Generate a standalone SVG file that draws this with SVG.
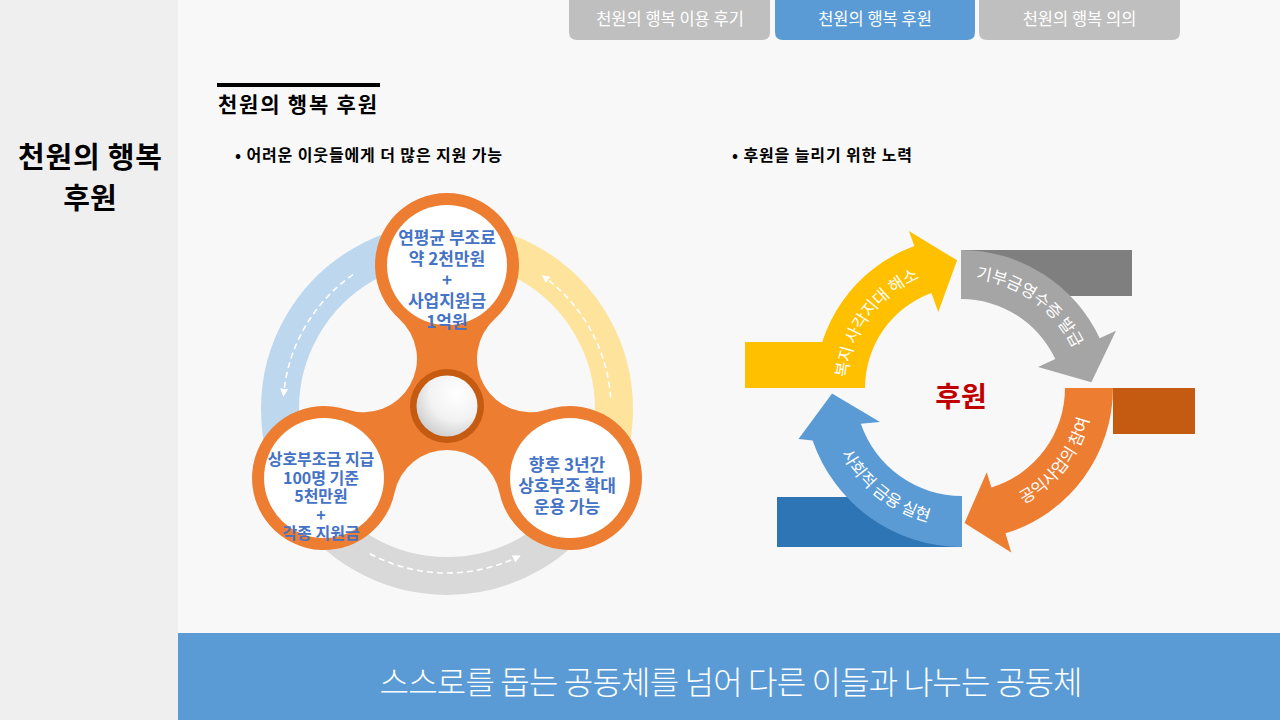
<svg xmlns="http://www.w3.org/2000/svg" width="1280" height="720" viewBox="0 0 1280 720">
<defs>
<style>
.kr{font-family:'Noto Sans CJK KR','Noto Sans',sans-serif}
.tab{font-size:16.5px;fill:#ffffff;text-anchor:middle}
.lobe{font-size:17px;font-weight:700;fill:#4472c4;text-anchor:middle}
.lobe2{font-size:16px;font-weight:700;fill:#4472c4;text-anchor:middle}
.arc{font-size:16.5px;fill:#ffffff;text-anchor:middle}
.ring{fill:none;stroke-width:38}
.dash{fill:none;stroke:#ffffff;stroke-width:1.6;stroke-dasharray:6 4}
</style>
<marker id="ah" markerWidth="8" markerHeight="8" refX="6" refY="4" orient="auto" markerUnits="userSpaceOnUse">
<path d="M0,0 L8,4 L0,8 z" fill="#ffffff"/>
</marker>
<radialGradient id="cg" cx="0.65" cy="0.3" r="0.8">
<stop offset="0" stop-color="#ffffff"/>
<stop offset="0.55" stop-color="#f2f2f2"/>
<stop offset="1" stop-color="#c8c8c8"/>
</radialGradient>
<path id="tpY" d="M848.46,406.61 A119,119 0 0 1 947.39,270.46"/>
<path id="tpG" d="M940.37,279.71 A125,125 0 0 1 1084.29,382.37"/>
<path id="tpO" d="M978,518.9 A132,132 0 0 0 1091.9,371"/>
<path id="tpB" d="M826.03,405.7 A137,137 0 0 0 978.7,524.97"/>
</defs>

<g id="background">
<rect x="0" y="0" width="1280" height="720" fill="#f8f8f8"/>
<rect x="0" y="0" width="178" height="720" fill="#efefef"/>
</g>

<g id="tabs" class="kr">
<g id="tab1"><path d="M569,0 H770 V32 Q770,40 762,40 H577 Q569,40 569,32 Z" fill="#bfbfbf"/><text class="tab" x="670" y="24.5">천원의 행복 이용 후기</text></g>
<g id="tab2"><path d="M775,0 H975 V32 Q975,40 967,40 H783 Q775,40 775,32 Z" fill="#5b9bd5"/><text class="tab" x="875" y="24.5">천원의 행복 후원</text></g>
<g id="tab3"><path d="M979,0 H1180 V32 Q1180,40 1172,40 H987 Q979,40 979,32 Z" fill="#bfbfbf"/><text class="tab" x="1079.5" y="24.5">천원의 행복 의의</text></g>
</g>

<g id="side-title" class="kr" font-size="29" font-weight="700" fill="#000000" text-anchor="middle">
<text x="90" y="168" textLength="144" lengthAdjust="spacing">천원의 행복</text>
<text x="90" y="209">후원</text>
</g>

<g id="heading" class="kr">
<rect x="217" y="83" width="163" height="4" fill="#000000"/>
<text x="218" y="112" font-size="21" font-weight="700" fill="#000000" textLength="159" lengthAdjust="spacing">천원의 행복 후원</text>
<text x="235" y="161" font-size="16" font-weight="700" fill="#000000" textLength="267" lengthAdjust="spacing">• 어려운 이웃들에게 더 많은 지원 가능</text>
<text x="732" y="161" font-size="16" font-weight="700" fill="#000000" textLength="180" lengthAdjust="spacing">• 후원을 늘리기 위한 노력</text>
</g>

<g id="ring">
<path class="ring" stroke="#bdd7ee" d="M447,242 A167,167 0 0 0 302.37,492.5"/>
<path class="ring" stroke="#fde39b" d="M447,242 A167,167 0 0 1 591.63,492.5"/>
<path class="ring" stroke="#d9d9d9" d="M591.63,492.5 A167,167 0 0 1 302.37,492.5"/>
</g>

<g id="connectors">
<path class="dash" marker-end="url(#ah)" d="M352.93,274.65 A164,164 0 0 0 283.62,394.7"/>
<path class="dash" marker-end="url(#ah)" d="M610.6,397.56 A164,164 0 0 0 543.4,276.32"/>
<path class="dash" marker-end="url(#ah)" d="M370,553.8 A164,164 0 0 0 518.9,556.4"/>
</g>

<g id="spinner">
<path fill="#ed7d31" d="M494.96,318.71 A53.6,53.6 0 0 0 547.44,409.61 A72,72 0 1 1 499.48,492.68 A53.6,53.6 0 0 0 394.52,492.68 A72,72 0 1 1 346.56,409.61 A53.6,53.6 0 0 0 399.04,318.71 A72,72 0 1 1 494.96,318.71 Z"/>
<circle cx="447" cy="406" r="37" fill="#c55a11"/>
<circle cx="447" cy="406" r="30.5" fill="url(#cg)"/>
</g>

<g id="node-top" class="kr">
<circle cx="447" cy="265" r="60" fill="#ffffff"/>
<text class="lobe" x="447" y="244">연평균 부조료<tspan x="447" dy="21">약 2천만원</tspan><tspan x="447" dy="21">+</tspan><tspan x="447" dy="21">사업지원금</tspan><tspan x="447" dy="21">1억원</tspan></text>
</g>

<g id="node-left" class="kr">
<circle cx="324" cy="478" r="60" fill="#ffffff"/>
<text class="lobe2" x="321" y="465">상호부조금 지급<tspan x="321" dy="18.5">100명 기준</tspan><tspan x="321" dy="18.5">5천만원</tspan><tspan x="321" dy="18.5">+</tspan><tspan x="321" dy="18.5">각종 지원금</tspan></text>
</g>

<g id="node-right" class="kr">
<circle cx="570" cy="478" r="60" fill="#ffffff"/>
<text class="lobe" x="567" y="471">향후 3년간<tspan x="567" dy="21">상호부조 확대</tspan><tspan x="567" dy="21">운용 가능</tspan></text>
</g>

<g id="cycle-tails">
<rect x="745" y="342" width="120" height="46" fill="#ffc000"/>
<rect x="962" y="250" width="170" height="46" fill="#7f7f7f"/>
<rect x="1113" y="388" width="82" height="46" fill="#c55a11"/>
<rect x="777" y="497" width="185" height="50" fill="#2e75b6"/>
</g>

<g id="arrow-yellow" class="kr">
<path fill="#ffc000" d="M815,388 A151,151 0 0 1 914.36,246.1 L908.89,231.07 L957.07,260.31 L938.3,311.88 L931.46,293.09 A101,101 0 0 0 865,388 Z"/>
<text class="arc"><textPath href="#tpY" startOffset="50%">복지 사각지대 해소</textPath></text>
</g>

<g id="arrow-gray" class="kr">
<path fill="#a5a5a5" d="M961,250 A153,153 0 0 1 1099.66,338.34 L1115.98,330.73 L1091.38,382.35 L1038.04,367.08 L1055.26,359.05 A104,104 0 0 0 961,299 Z"/>
<text class="arc"><textPath href="#tpG" startOffset="50%">기부금영수증 발급</textPath></text>
</g>

<g id="arrow-orange" class="kr">
<path fill="#ed7d31" d="M1113,388 A152,152 0 0 1 1005.44,533.36 L1011.29,552.48 L964.53,522.95 L986.73,472.15 L991.41,487.46 A104,104 0 0 0 1065,388 Z"/>
<text class="arc"><textPath href="#tpO" startOffset="50%">공익사업의 참여</textPath></text>
</g>

<g id="arrow-blue" class="kr">
<path fill="#5b9bd5" d="M962,547 A158,158 0 0 1 812.61,440.44 L798.5,439 L832.08,393.54 L880,422 L860.83,423.84 A107,107 0 0 0 962,496 Z"/>
<text class="arc"><textPath href="#tpB" startOffset="50%">사회적 금융 실현</textPath></text>
</g>

<g id="center-label" class="kr">
<text x="961" y="407" font-size="28" font-weight="700" fill="#c00000" text-anchor="middle">후원</text>
</g>

<g id="banner" class="kr">
<rect x="178" y="633" width="1102" height="87" fill="#5b9bd5"/>
<text x="731" y="694" font-size="32" font-weight="300" fill="#ffffff" text-anchor="middle" textLength="703" lengthAdjust="spacing">스스로를 돕는 공동체를 넘어 다른 이들과 나누는 공동체</text>
</g>
</svg>
